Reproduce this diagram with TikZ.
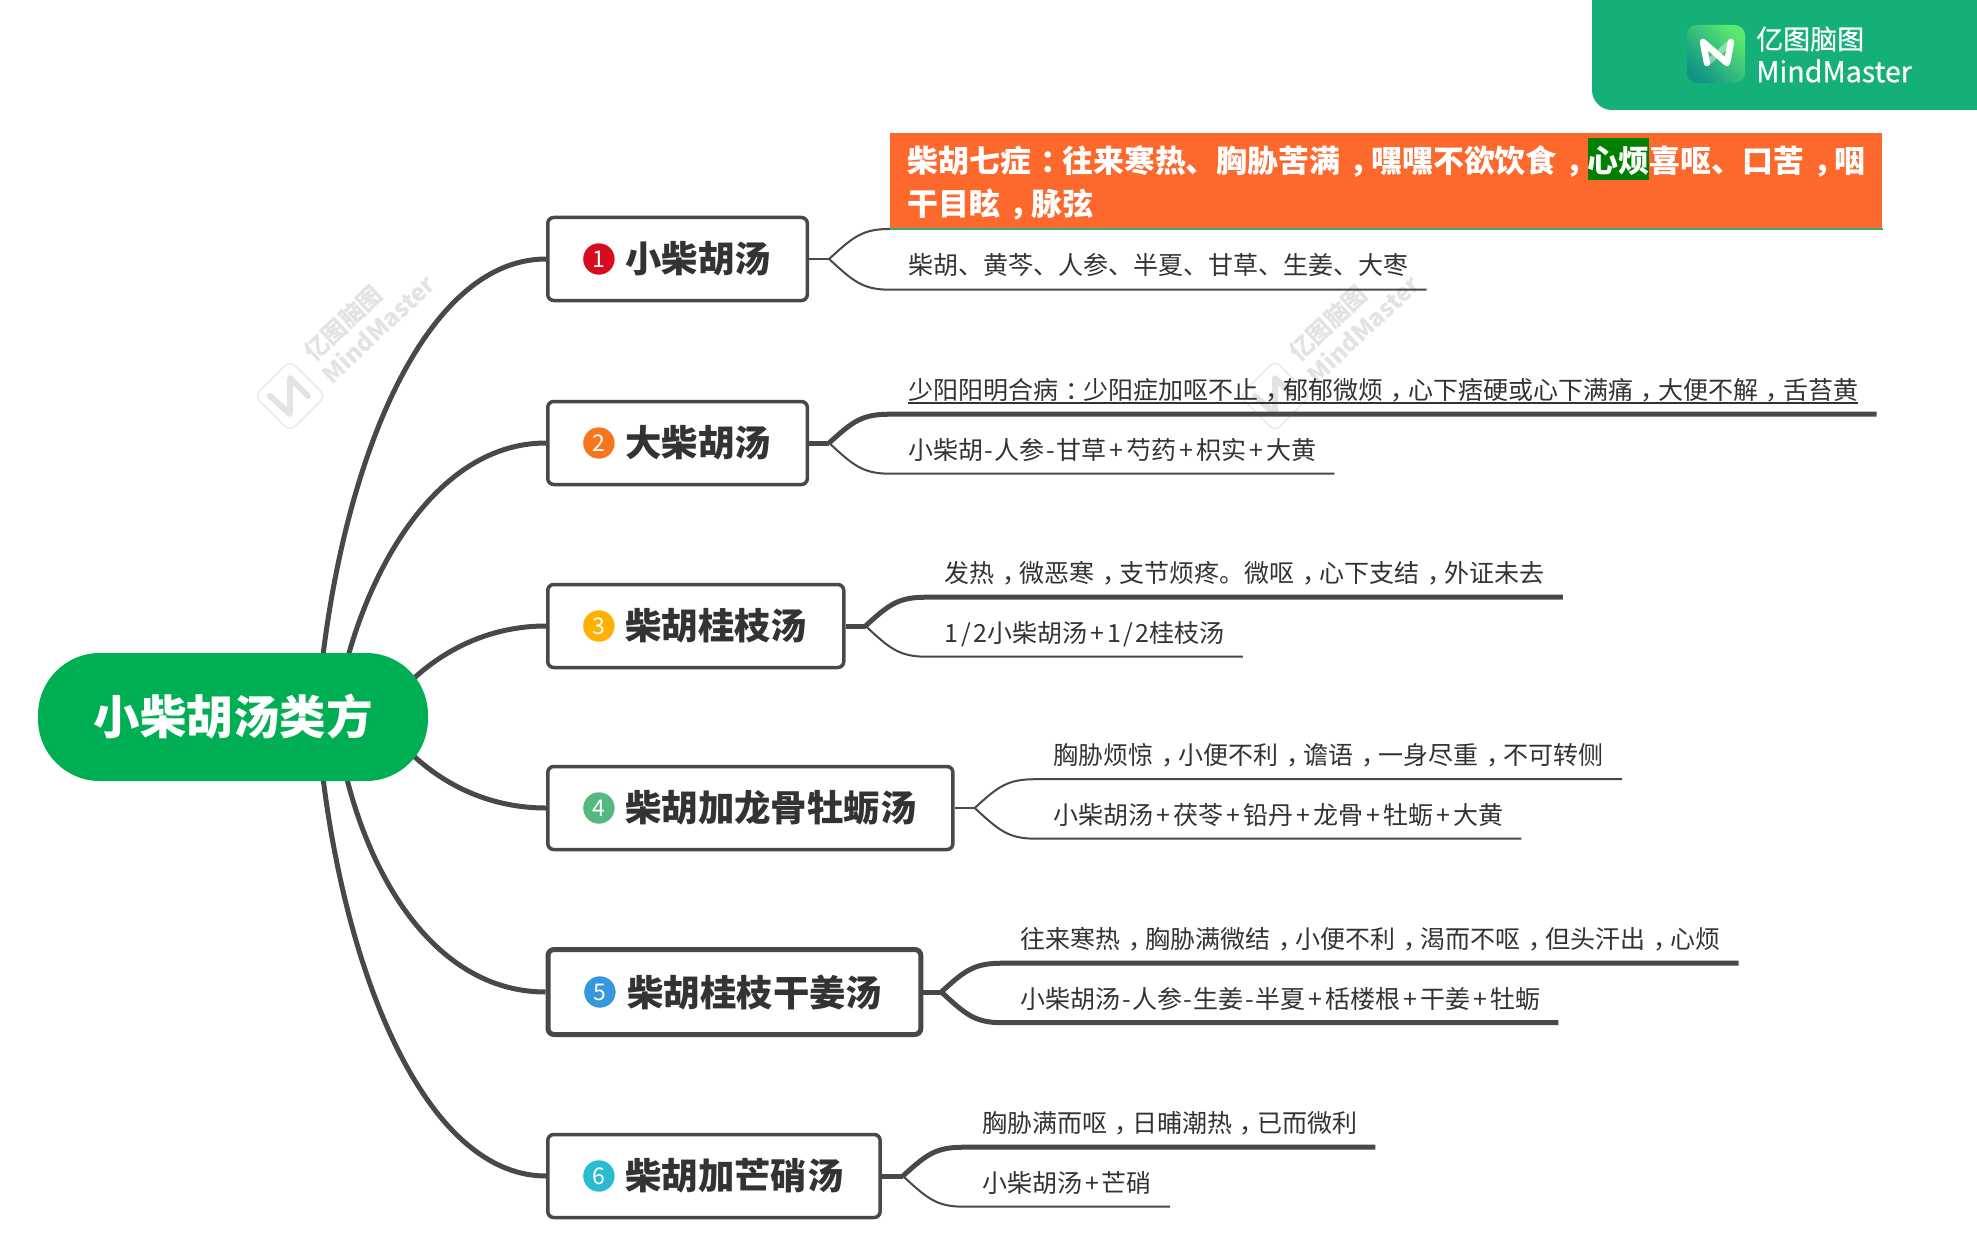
\documentclass[tikz,border=0pt]{standalone}
\usepackage{fontspec}
\setmainfont{Noto Sans CJK SC}
\newfontfamily\logofont{Noto Sans CJK SC}[FakeBold=0.5]
\usetikzlibrary{positioning,backgrounds}

\definecolor{rootgreen}{HTML}{00AE54}
\definecolor{linegray}{HTML}{484848}
\definecolor{textgray}{HTML}{333333}
\definecolor{orangebox}{HTML}{FD682C}
\definecolor{underlinegreen}{HTML}{36AE6C}
\definecolor{hlgreen}{HTML}{008000}
\definecolor{logogreen}{HTML}{15AF78}
\definecolor{iconlight}{HTML}{5CE86F}
\definecolor{icondark}{HTML}{109488}
\definecolor{wmgray}{HTML}{E3E3E3}
\definecolor{numA}{HTML}{D90B1F}
\definecolor{numB}{HTML}{F8751F}
\definecolor{numC}{HTML}{FFB000}
\definecolor{numD}{HTML}{53B97E}
\definecolor{numE}{HTML}{3498DB}
\definecolor{numF}{HTML}{2BBBD0}

\setlength{\fboxsep}{0pt}
\newcommand{\cma}{\kern.3em，\kern-.3em}
\newcommand{\cln}{\kern.3em：\kern-.3em}
\newcommand{\pls}{\kern3pt+\kern3pt}
\newcommand{\mns}{\kern1.5pt-\kern1.5pt}
\newcommand{\half}{1\kern2.5pt/\kern2.5pt2}
\newcommand{\hlword}[1]{\colorbox{hlgreen}{\rule[-7.2pt]{0pt}{42pt}#1}}
\newcommand{\ultext}[1]{\vtop{\hbox{#1}\kern0pt\hrule height 1.5pt}}
\newcommand{\tpad}{\hspace*{41pt}}

\tikzset{
  root/.style={fill=rootgreen,text=white,rounded corners=62pt,minimum width=390pt,minimum height=128pt,inner sep=0pt,font=\fontsize{46.5pt}{50pt}\selectfont\bfseries},
  topic/.style={draw=linegray,fill=white,text=textgray,line width=3.5pt,rounded corners=6pt,inner xsep=36.5pt,inner ysep=0pt,minimum height=83pt,anchor=west,font=\fontsize{36.4pt}{40pt}\selectfont\bfseries},
  badge/.style={circle,fill=#1,text=white,minimum size=31.4pt,inner sep=0pt,font=\fontsize{23pt}{25pt}\selectfont},
  leaf/.style={text=textgray,inner xsep=18pt,inner ysep=0pt,minimum height=48pt,text height=22pt,text depth=3pt,font=\fontsize{25pt}{30pt}\selectfont},
  upleaf/.style={leaf,right=61pt of #1,yshift=53pt},
  lowleaf/.style={leaf,right=61pt of #1,yshift=-6.5pt},
  rootln/.style={draw=linegray,line width=5pt},
  thickln/.style={draw=linegray,line width=5pt},
  thinln/.style={draw=linegray,line width=2pt},
  nglyph/.style={line width=6pt,line join=round,line cap=round},
  wmtext/.style={text=wmgray,rotate=43,inner sep=0pt,font=\fontsize{24pt}{26pt}\selectfont\bfseries},
}

\begin{document}
\begin{tikzpicture}[x=1pt,y=-1pt]
  \useasboundingbox (0,0) rectangle (1977,1241);

  % watermarks
  \foreach \wx/\wn in {0/a,985/b}{
    \begin{scope}[xshift=\wx pt]
      \node[draw=wmgray,line width=1pt,rounded corners=7pt,rotate=45,minimum size=50pt] (wmbox\wn) at (290,396) {};
      \draw[wmgray,nglyph] (270,396) -- (290,414) -- (290,378) -- (308,396);
      \node[wmtext] (wmcn\wn) at (343,323) {亿图脑图};
      \node[wmtext] (wmen\wn) at (378,329) {MindMaster};
    \end{scope}
  }

  % logo
  \fill[logogreen] (1977,0) -- (1592,0) [rounded corners=20pt] -- (1592,110) [sharp corners] -- (1977,110) -- cycle;
  \node[rounded corners=10pt,minimum size=58pt,inner sep=0pt,left color=iconlight,right color=icondark,shading angle=-45] (logoicon) at (1716,54) {};
  \draw[white,opacity=.4,nglyph] (1707,63) -- (1731,42);
  \draw[white,nglyph,line width=6.5pt] (1707,63) -- (1703,42) -- (1727,63) -- (1731,42);
  \node[text=white,anchor=west,inner sep=0pt,font=\fontsize{27pt}{30pt}\selectfont\logofont] (logocn) at (1756,39) {亿图脑图};
  \node[text=white,anchor=west,inner sep=0pt,font=\fontsize{28.6pt}{30pt}\selectfont\logofont] (logoen) at (1756,71) {MindMaster};

  % root and topics
  \node[root]  (root) at (233,717) {小柴胡汤类方};
  \node[topic] (t1) at (546,259)  {\tpad 小柴胡汤};
  \node[topic] (t2) at (546,443)  {\tpad 大柴胡汤};
  \node[topic] (t3) at (546,626)  {\tpad 柴胡桂枝汤};
  \node[topic] (t4) at (546,808)  {\tpad 柴胡加龙骨牡蛎汤};
  \node[topic,line width=5pt,inner xsep=38.5pt,minimum height=85pt] (t5) at (545.5,992) {\tpad 柴胡桂枝干姜汤};
  \node[topic] (t6) at (546,1176) {\tpad 柴胡加芒硝汤};

  \node[badge=numA,right=37pt of t1.west] (b1) {1};
  \node[badge=numB,right=37pt of t2.west] (b2) {2};
  \node[badge=numC,right=37pt of t3.west] (b3) {3};
  \node[badge=numD,right=37pt of t4.west] (b4) {4};
  \node[badge=numE,right=38.5pt of t5.west] (b5) {5};
  \node[badge=numF,right=37pt of t6.west] (b6) {6};

  \begin{pgfonlayer}{background}
    \draw[rootln] ([xshift=84pt]root.center)  .. controls +(17,-237) and +(-127,0) .. (t1.west);
    \draw[rootln] ([xshift=102pt]root.center) .. controls +(19,-127) and +(-117,0) .. (t2.west);
    \draw[rootln] ([xshift=147pt]root.center) .. controls +(40,-57) and +(-67,0) .. (t3.west);
    \draw[rootln] ([xshift=147pt]root.center) .. controls +(40,58) and +(-67,0) .. (t4.west);
    \draw[rootln] ([xshift=102pt]root.center) .. controls +(19,143) and +(-117,0) .. (t5.west);
    \draw[rootln] ([xshift=84pt]root.center)  .. controls +(17,233) and +(-127,0) .. (t6.west);
  \end{pgfonlayer}

  % forks
  \coordinate[right=20pt of t1.east] (f1);
  \coordinate[right=20pt of t2.east] (f2);
  \coordinate[right=20pt of t3.east] (f3);
  \coordinate[right=20pt of t4.east] (f4);
  \coordinate[right=18pt of t5.east] (f5);
  \coordinate[right=21pt of t6.east] (f6);

  % leaves
  \node[right=61pt of f1,yshift=78pt,fill=orangebox,text=white,align=left,text width=957pt,inner xsep=17.5pt,inner ysep=0pt,minimum height=95.5pt,font=\fontsize{30.9pt}{43pt}\selectfont\bfseries] (l1a)
    {柴胡七症\cln 往来寒热、胸胁苦满\cma 嘿嘿不欲饮食\cma \hlword{心烦}喜呕、口苦\cma 咽\\干目眩\cma 脉弦\rule[-9pt]{0pt}{0pt}};
  \node[lowleaf=f1] (l1b) {柴胡、黄芩、人参、半夏、甘草、生姜、大枣};
  \node[upleaf=f2]  (l2a) {\ultext{少阳阳明合病\cln 少阳症加呕不止\cma 郁郁微烦\cma 心下痞硬或心下满痛\cma 大便不解\cma 舌苔黄}};
  \node[lowleaf=f2] (l2b) {小柴胡\mns 人参\mns 甘草\pls 芍药\pls 枳实\pls 大黄};
  \node[upleaf=f3]  (l3a) {发热\cma 微恶寒\cma 支节烦疼。微呕\cma 心下支结\cma 外证未去};
  \node[lowleaf=f3] (l3b) {\half 小柴胡汤\pls\half 桂枝汤};
  \node[upleaf=f4]  (l4a) {胸胁烦惊\cma 小便不利\cma 谵语\cma 一身尽重\cma 不可转侧};
  \node[lowleaf=f4] (l4b) {小柴胡汤\pls 茯苓\pls 铅丹\pls 龙骨\pls 牡蛎\pls 大黄};
  \node[upleaf=f5]  (l5a) {往来寒热\cma 胸胁满微结\cma 小便不利\cma 渴而不呕\cma 但头汗出\cma 心烦};
  \node[lowleaf=f5] (l5b) {小柴胡汤\mns 人参\mns 生姜\mns 半夏\pls 栝楼根\pls 干姜\pls 牡蛎};
  \node[upleaf=f6]  (l6a) {胸胁满而呕\cma 日晡潮热\cma 已而微利};
  \node[lowleaf=f6] (l6b) {小柴胡汤\pls 芒硝};

  % connectors
  \draw[thinln]  (t1.east) -- (f1);
  \draw[thinln]  (f1) .. controls +(24,-22) and +(-28,0) .. (l1a.south west);
  \draw[underlinegreen,line width=2pt] (l1a.south west) -- (l1a.south east);
  \draw[thinln]  (f1) .. controls +(24,22) and +(-28,0) .. (l1b.south west) -- (l1b.south east);

  \draw[thickln] (t2.east) -- (f2);
  \draw[thickln] (f2) .. controls +(24,-22) and +(-28,0) .. (l2a.south west) -- (l2a.south east);
  \draw[thinln]  (f2) .. controls +(24,22) and +(-28,0) .. (l2b.south west) -- (l2b.south east);

  \draw[thickln] (t3.east) -- (f3);
  \draw[thickln] (f3) .. controls +(24,-22) and +(-28,0) .. (l3a.south west) -- (l3a.south east);
  \draw[thinln]  (f3) .. controls +(24,22) and +(-28,0) .. (l3b.south west) -- (l3b.south east);

  \draw[thinln]  (t4.east) -- (f4);
  \draw[thinln]  (f4) .. controls +(24,-22) and +(-28,0) .. (l4a.south west) -- (l4a.south east);
  \draw[thinln]  (f4) .. controls +(24,22) and +(-28,0) .. (l4b.south west) -- (l4b.south east);

  \draw[thickln] (t5.east) -- (f5);
  \draw[thickln] (f5) .. controls +(24,-22) and +(-28,0) .. (l5a.south west) -- (l5a.south east);
  \draw[thickln] (f5) .. controls +(24,22) and +(-28,0) .. (l5b.south west) -- (l5b.south east);

  \draw[thickln] (t6.east) -- (f6);
  \draw[thickln] (f6) .. controls +(24,-22) and +(-28,0) .. (l6a.south west) -- (l6a.south east);
  \draw[thinln]  (f6) .. controls +(24,22) and +(-28,0) .. (l6b.south west) -- (l6b.south east);
\end{tikzpicture}
\end{document}
